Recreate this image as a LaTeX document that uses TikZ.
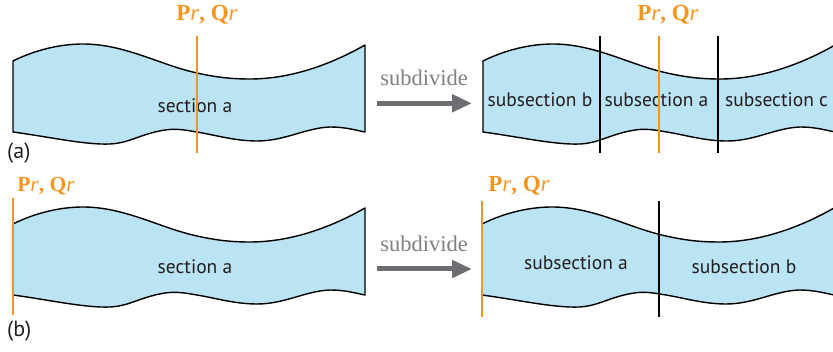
\documentclass[tikz,border=0pt]{standalone}
\usepackage{fontspec}
\setmainfont{Liberation Serif}
\newfontfamily\labelfont{PT Sans}
\usetikzlibrary{arrows.meta}
\definecolor{secfill}{HTML}{BAE3F3}
\definecolor{pqorange}{HTML}{F7941D}
\definecolor{arrgray}{HTML}{6D6E71}
\definecolor{txtgray}{HTML}{808080}
\definecolor{txtdark}{HTML}{231F20}
\newcommand{\wavepath}{(13,61) .. controls (35,50) and (60,44) .. (83,44) .. controls (125,44) and (160,65) .. (197,73) .. controls (215,77) and (230,79) .. (250,79) .. controls (290,79) and (330,65) .. (365,45) -- (365,132) .. controls (355,130) and (345,127) .. (330,127) .. controls (305,128) and (285,141) .. (257,141) .. controls (235,141) and (215,135) .. (197,132) .. controls (190,131) and (178,128) .. (165,130) .. controls (140,134) and (130,143) .. (110,144) .. controls (85,145) and (50,137) .. (13,132) -- cycle}
\tikzset{
  sectionshape/.style={fill=secfill, draw=black, line width=1.4pt, line join=round},
  cutline/.style={draw=black, line width=1.3pt},
  pqline/.style={draw=pqorange, line width=1.8pt},
  seclabel/.style={font=\labelfont\fontsize{19.5}{22}\selectfont, text=txtdark, anchor=base, inner sep=0pt},
  panellabel/.style={font=\labelfont\fontsize{22}{24}\selectfont, text=txtdark, anchor=base west, inner sep=0pt},
  pqlabel/.style={font=\fontsize{23}{26}\selectfont, text=pqorange, anchor=base, inner sep=0pt},
  divlabel/.style={font=\fontsize{22.5}{26}\selectfont, text=txtgray, anchor=base, inner sep=0pt},
  divarrow/.style={draw=arrgray, line width=5pt, -{Triangle[length=20pt,width=17pt]}},
}
\begin{document}
\begin{tikzpicture}[x=1pt,y=-1pt]
\clip (0,0) rectangle (833,352);
% ---------- (a) ----------
\path[sectionshape] \wavepath;
\begin{scope}[shift={(470,0)}]
  \path[sectionshape] \wavepath;
\end{scope}
\node[seclabel] (seca) at (195,112.7) {section a};
\node[seclabel] (subb) at (540,106.7) {subsection b};
\node[seclabel] (suba) at (656.5,106.7) {subsection a};
\node[seclabel] (subc) at (776.5,106.7) {subsection c};
\node[panellabel] (laba) at (7,159) {(a)};
\node[pqlabel] (pqa1) at (207,20.7) {\textbf{P}\textit{r}\textbf{, Q}\textit{r}};
\node[pqlabel] (pqa2) at (668,20.3) {\textbf{P}\textit{r}\textbf{, Q}\textit{r}};
\node[divlabel] (diva) at (424,86) {subdivide};
\coordinate (arA1) at (377,103.3);
\coordinate (arA2) at (472,103.3);
\draw[divarrow] (arA1) -- (arA2);
\coordinate (cA1t) at (600,36); \coordinate (cA1b) at (600,153);
\coordinate (cA2t) at (718,36); \coordinate (cA2b) at (718,153);
\draw[cutline] (cA1t) -- (cA1b);
\draw[cutline] (cA2t) -- (cA2b);
\coordinate (oA1t) at (197,36); \coordinate (oA1b) at (197,153);
\coordinate (oA2t) at (659,36); \coordinate (oA2b) at (659,153);
\draw[pqline] (oA1t) -- (oA1b);
\draw[pqline] (oA2t) -- (oA2b);
% ---------- (b) ----------
\begin{scope}[shift={(0,163)}]
  \path[sectionshape] \wavepath;
\end{scope}
\begin{scope}[shift={(469,163)}]
  \path[sectionshape] \wavepath;
\end{scope}
\node[seclabel] (secb) at (195,273.3) {section a};
\node[seclabel] (subba) at (576,270) {subsection a};
\node[seclabel] (subbb) at (744,273.3) {subsection b};
\node[panellabel] (labb) at (7,337) {(b)};
\node[pqlabel, font=\fontsize{21.5}{24}\selectfont] (pqb1) at (46,191.7) {\textbf{P}\textit{r}\textbf{, Q}\textit{r}};
\node[pqlabel] (pqb2) at (519,191.7) {\textbf{P}\textit{r}\textbf{, Q}\textit{r}};
\node[divlabel] (divb) at (424,251.7) {subdivide};
\coordinate (arB1) at (377,269);
\coordinate (arB2) at (472,269);
\draw[divarrow] (arB1) -- (arB2);
\coordinate (cB1t) at (659,201); \coordinate (cB1b) at (659,317);
\draw[cutline] (cB1t) -- (cB1b);
\coordinate (oB1t) at (13,198); \coordinate (oB1b) at (13,315);
\coordinate (oB2t) at (482,201); \coordinate (oB2b) at (482,317);
\draw[pqline] (oB1t) -- (oB1b);
\draw[pqline] (oB2t) -- (oB2b);
\end{tikzpicture}
\end{document}
